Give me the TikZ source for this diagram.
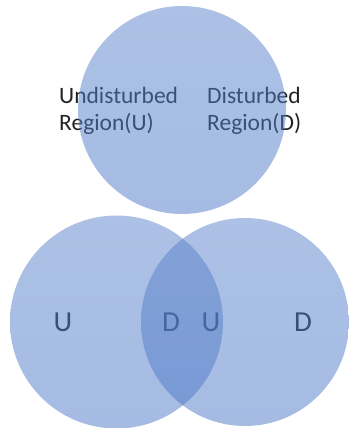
\documentclass[tikz,border=0pt]{standalone}
\usepackage{fontspec}
\setmainfont{Carlito}
\definecolor{venn}{HTML}{4472C4}
\definecolor{ink}{HTML}{222222}
\tikzset{
  vcirc/.style={circle, inner sep=0pt, draw=none, top color=venn!88!white, bottom color=venn!100!black!96, fill opacity=0.5},
  toplabel/.style={anchor=base west, inner sep=0pt, text=ink, font=\fontsize{23.5}{28}\selectfont},
  letter/.style={anchor=base, inner sep=0pt, text=ink, font=\fontsize{29}{34}\selectfont}
}
\begin{document}
\begin{tikzpicture}[x=1pt,y=-1pt]
\useasboundingbox (0,0) rectangle (348,428);
% labels (drawn under the translucent circles)
\node[toplabel] (ul1) at (59,103) {Undisturbed};
\node[toplabel] (ul2) at (59,130) {Region(U)};
\node[toplabel] (dr1) at (207,103) {Disturbed};
\node[toplabel] (dr2) at (207,130) {Region(D)};
\node[letter] (lu) at (63,331) {U};
\node[letter] (ld) at (171,331) {D};
\node[letter] (ru) at (211,331) {U};
\node[letter] (rd) at (303,331) {D};
% circles
\node[vcirc, minimum size=208pt] (top) at (182,110) {};
\node[vcirc, minimum size=213pt] (left) at (116.5,322) {};
\node[vcirc, minimum size=208pt] (right) at (245,322) {};
\end{tikzpicture}
\end{document}
